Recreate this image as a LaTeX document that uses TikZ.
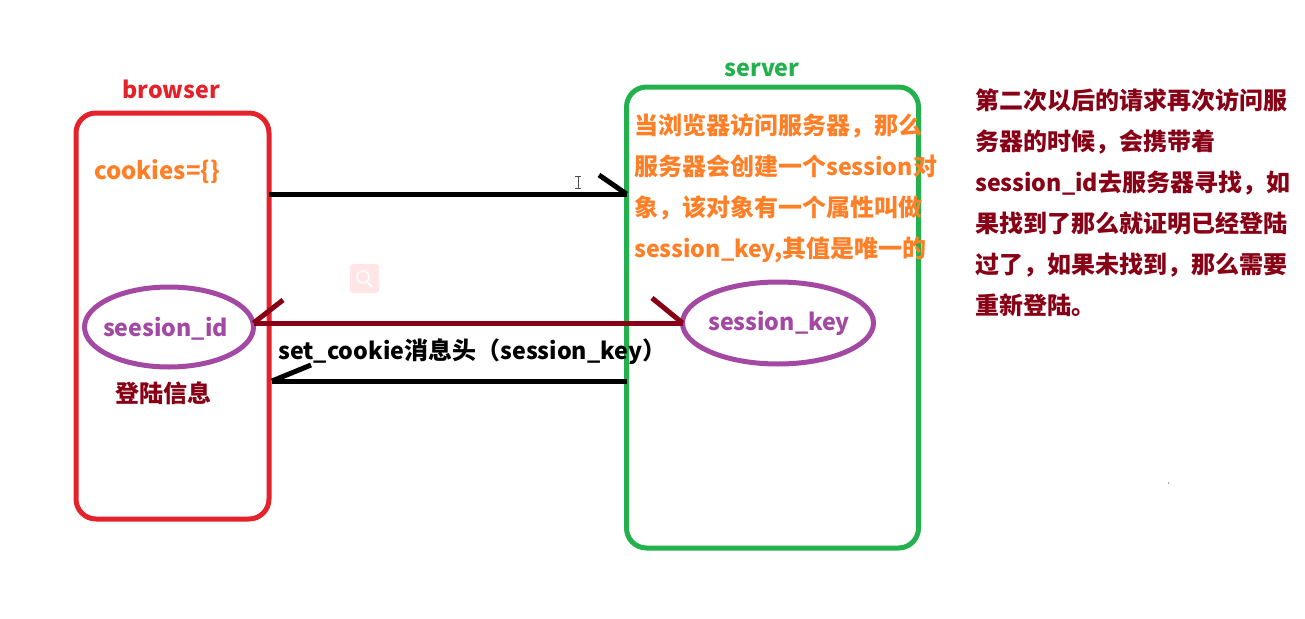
\documentclass[tikz,border=0pt]{standalone}
\usepackage{fontspec}
\setmainfont{Noto Sans CJK SC}
\definecolor{boxred}{HTML}{E4222B}
\definecolor{boxgreen}{HTML}{22B14C}
\definecolor{notepurple}{HTML}{A349A4}
\definecolor{noteorange}{HTML}{FF7F27}
\definecolor{darkred}{HTML}{880015}
\newcommand{\lat}[1]{{\fontsize{23.2}{41}\selectfont #1}}
\tikzset{
    sidebox/.style={draw,line width=5pt,rounded corners=20pt,outer sep=0pt},
    keyring/.style={draw=notepurple,ellipse,line width=5pt,outer sep=0pt,inner sep=0pt},
    label/.style={font=\fontsize{24}{41}\selectfont\bfseries,inner sep=0pt},
    blackline/.style={black,line width=5pt},
    redline/.style={darkred,line width=5pt},
}
\usetikzlibrary{shapes.geometric}
\begin{document}
\begin{tikzpicture}[x=1pt,y=-1pt]
    \useasboundingbox (0,0) rectangle (1305,618);

    % The two sides
    \node[sidebox,draw=boxred,minimum width=193pt,minimum height=406pt] (browser) at (172.5,316) {};
    \node[sidebox,draw=boxgreen,minimum width=292pt,minimum height=461pt] (server) at (772.5,317.5) {};
    \node[label,text=boxred] (browsertitle) at (171,89) {\lat{browser}};
    \node[label,text=boxgreen] (servertitle) at (762,69.5) {\lat{server}};

    % Ellipses that hold the ids
    \node[keyring,minimum width=169pt,minimum height=80pt] (sessionid) at (169,327) {};
    \node[keyring,minimum width=191pt,minimum height=82pt] (sessionkey) at (778,323) {};
    \node[label,text=notepurple] (sessionidtext) at (165.5,329) {\lat{seesion\_id}};
    \node[label,text=notepurple] (sessionkeytext) at (779,323) {\lat{session\_key}};

    % Texts
    \node[label,text=noteorange] (cookies) at (157,172) {cookies=\{\}};
    \node[label,text=darkred] (logininfo) at (163,393) {登陆信息};
    \node[label,text=black,anchor=west] (setcookie) at (278,352) {\lat{set\_cookie}消息头（\lat{session\_key}）};
    \node[label,text=noteorange,align=left,anchor=north west] (servernote) at (634,114) {当浏览器访问服务器，那么\\服务器会创建一个\lat{session}对\\象，该对象有一个属性叫做\\\lat{session\_key,}其值是唯一的};
    \node[label,text=darkred,align=left,anchor=north west] (secondnote) at (975,89) {第二次以后的请求再次访问服\\务器的时候，会携带着\\\lat{session\_id}去服务器寻找，如\\果找到了那么就证明已经登陆\\过了，如果未找到，那么需要\\重新登陆。};

    % Free ends of the arrows
    \coordinate (reqstart) at (browser.east |- 0,194);
    \coordinate (reqtip) at (server.west |- 0,194);
    \coordinate (reqbarb) at (599,175);
    \coordinate (idtip) at (sessionid.east |- 0,323);
    \coordinate (keytip) at (sessionkey.west);
    \coordinate (idbarb) at (283,300);
    \coordinate (keybarb) at (652,298);
    \coordinate (resstart) at (server.west |- 0,381);
    \coordinate (restip) at (272,381);
    \coordinate (resbarb) at (311,365);

    % Request arrow
    \draw[blackline] (reqstart) -- (reqtip);
    \draw[blackline] (reqbarb) -- (reqtip);

    % Dark red arrow between the two ellipses
    \draw[redline] (idtip) -- (keytip);
    \draw[redline] (idbarb) -- (idtip);
    \draw[redline] (keybarb) -- (keytip);

    % Response arrow
    \draw[blackline] (resstart) -- (restip);
    \draw[blackline] (resbarb) -- (restip);

    % Screen leftovers: magnifier badge, text cursor, dot
    \fill[red!10,rounded corners=3pt] (350,264) rectangle (379,293);
    \draw[white,line width=1.5pt] (363,277) circle (6pt);
    \draw[white,line width=2pt] (367,282) -- (372,287);
    \draw[black!70,line width=0.7pt] (575,176) -- (581,176) (578,176) -- (578,188) (575,188) -- (581,188);
    \fill[black!70] (1168.5,483) circle (0.6pt);
\end{tikzpicture}
\end{document}
